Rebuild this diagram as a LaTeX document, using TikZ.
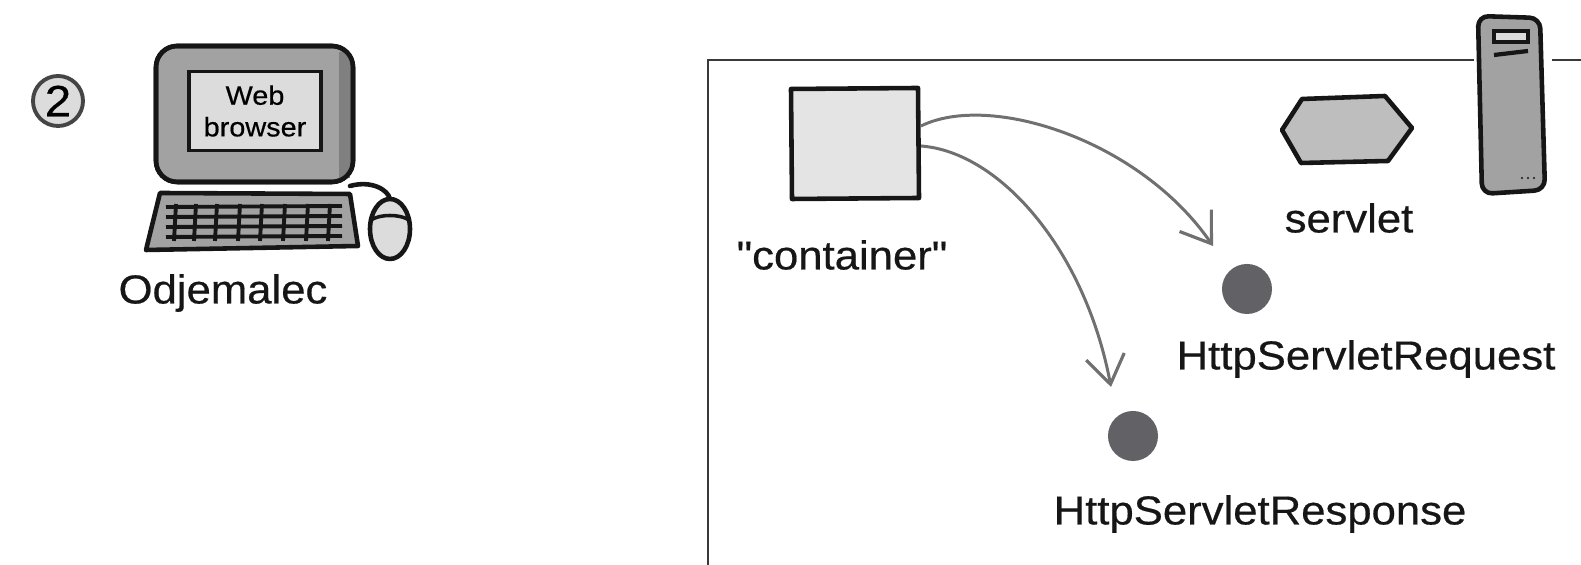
\documentclass[tikz,border=0pt]{standalone}
\usepackage{fontspec}
\setmainfont{Liberation Sans}[FakeStretch=1.08, FakeBold=0.5]
% plain family without TeX ligature mapping, so " stays a straight quote
\newfontfamily\labelfont{Liberation Sans}[FakeStretch=1.08, FakeBold=0.5]
\usetikzlibrary{arrows.meta}
\definecolor{ink}{HTML}{161616}
\definecolor{bodygray}{HTML}{A2A2A2}
\definecolor{screengray}{HTML}{DCDCDC}
\definecolor{boxgray}{HTML}{E4E4E4}
\definecolor{hexgray}{HTML}{BEBEBE}
\definecolor{dotgray}{HTML}{626266}
\definecolor{arrowgray}{HTML}{707070}
\begin{document}
\begin{tikzpicture}[x=0.01cm,y=-0.01cm,
  lbl/.style={font=\labelfont\fontsize{11.5}{13}\selectfont, text=ink, inner sep=0pt},
  sketch/.style={draw=ink, line width=1.3pt, line join=round, line cap=round},
  flow/.style={draw=arrowgray, line width=0.85pt, -{Straight Barb[length=8pt,width=11pt,line width=0.9pt]}},
  objdot/.style={circle, fill=dotgray, minimum size=0.5cm, inner sep=0pt}]
\useasboundingbox (0,0) rectangle (1581,565);

% step number
\node[circle, draw=ink!80, line width=1.1pt, fill=screengray, minimum size=0.5cm, inner sep=0pt,
      font=\labelfont\fontsize{12.5}{12}\selectfont] (step2) at (58,101) {2};

% client computer: monitor
\draw[sketch, fill=bodygray, rounded corners=6pt] (156,46) rectangle (353,182);
\fill[black!50] (339,52) rectangle (350,178);
\draw[sketch, rounded corners=6pt] (156,46) rectangle (353,182);
\node[draw=ink, line width=1pt, fill=screengray, minimum width=1.32cm, minimum height=0.79cm,
      inner sep=0pt, align=center, font=\labelfont\fontsize{7.6}{9}\selectfont] (screen) at (255,111)
      {Web\\browser};
% keyboard
\draw[sketch, fill=bodygray] (160,193) -- (350,194) -- (358,246) -- (146,250) -- cycle;
\foreach \yy in {207,217,227,237} \draw[ink, line width=1.1pt] (166,\yy) -- (342,\yy-1);
\foreach \xx in {176,196,217,240,262,285,308,330} \draw[ink, line width=1.1pt] (\xx,204) -- (\xx-2,241);
% mouse and cord
\draw[sketch] (350,186) .. controls (372,180) and (388,190) .. (390,199);
\draw[sketch, fill=screengray] (390,229) ellipse (20 and 30);
\draw[ink, line width=1pt] (371,220) .. controls (380,214) and (400,214) .. (409,220);
\node[lbl] (client) at (223,293) {Odjemalec};

% server machine frame
\draw[ink!85, line width=0.6pt] (708,565) -- (708,60) -- (1474,60);
\draw[ink!85, line width=0.6pt] (1552,60) -- (1581,60);

% container
\draw[sketch, fill=boxgray] (791,89) -- (918,88) -- (919,198) -- (792,199) -- cycle;
\node[lbl] (contlbl) at (842,255) {"container"};

% servlet
\draw[sketch, fill=hexgray] (1282,130) -- (1302,99) -- (1385,96) -- (1412,128) -- (1388,161) -- (1301,163) -- cycle;
\node[lbl] (servlbl) at (1349,218) {servlet};

% server tower
\draw[sketch, fill=bodygray, rounded corners=3pt] (1478,16) -- (1540,18) -- (1545,190) -- (1482,194) -- cycle;
\draw[ink, line width=1pt, fill=screengray] (1494,31) rectangle (1528,42);
\draw[ink, line width=1.2pt] (1494,55) -- (1528,51);
\foreach \xx in {1522,1528,1534} \fill[ink] (\xx,178) circle (1.2);

% request / response objects
\node[objdot] (req) at (1247,289) {};
\node[lbl] (reqlbl) at (1366,359) {HttpServletRequest};
\node[objdot] (resp) at (1133,436) {};
\node[lbl] (resplbl) at (1260,514) {HttpServletResponse};

% container creates the objects
\coordinate (c1) at (921,126);
\coordinate (c2) at (921,146);
\draw[flow] (c1) .. controls (990,92) and (1140,140) .. ([shift={(-34,-43)}]req.center);
\draw[flow] (c2) .. controls (1000,152) and (1085,250) .. ([shift={(-22,-49)}]resp.center);
\end{tikzpicture}
\end{document}
